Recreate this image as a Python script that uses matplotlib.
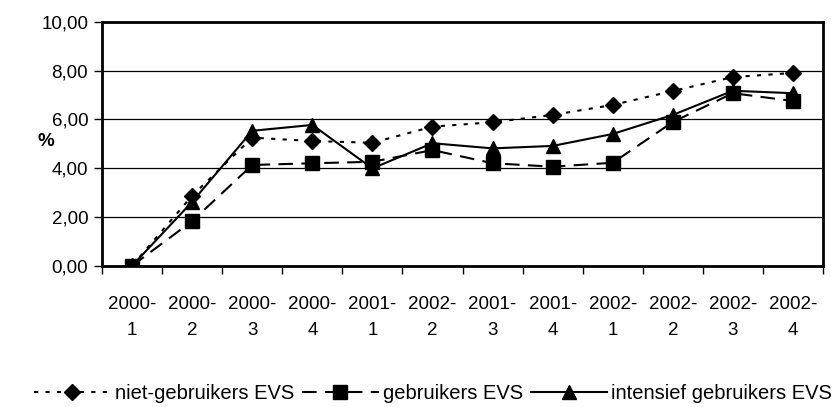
import numpy as np
import matplotlib.pyplot as plt

plt.rcParams['font.family'] = ['Liberation Sans', 'DejaVu Sans']

periods = ['2000-\n1', '2000-\n2', '2000-\n3', '2000-\n4', '2001-\n1', '2002-\n2',
           '2001-\n3', '2001-\n4', '2002-\n1', '2002-\n2', '2002-\n3', '2002-\n4']
niet_gebruikers = [0.00, 2.87, 5.25, 5.11, 5.04, 5.70, 5.88, 6.18, 6.59, 7.16, 7.73, 7.90]
gebruikers = [0.00, 1.83, 4.13, 4.20, 4.26, 4.74, 4.20, 4.06, 4.22, 5.89, 7.07, 6.75]
intensief = [0.00, 2.62, 5.53, 5.77, 3.99, 5.02, 4.81, 4.91, 5.40, 6.18, 7.17, 7.07]
yticks = [0, 2, 4, 6, 8, 10]

fig = plt.figure(figsize=(8.33, 4.07), dpi=100)
ax = fig.add_axes([0.1225, 0.347, 0.8655, 0.5997])

x = np.arange(len(periods))
ax.plot(x, niet_gebruikers, color='black', lw=1.5, ls=(0, (2, 3.5)),
        marker='D', markersize=8, label='niet-gebruikers EVS')
ax.plot(x, gebruikers, color='black', lw=1.5, ls=(0, (7, 4)),
        marker='s', markersize=9.5, label='gebruikers EVS')
ax.plot(x, intensief, color='black', lw=1.5, ls='-',
        marker='^', markersize=10, label='intensief gebruikers EVS')

ax.set_xlim(-0.5, len(periods) - 0.5)
ax.set_ylim(0, 10)
ax.set_yticks(yticks)
ax.set_yticklabels([('%.2f' % v).replace('.', ',') for v in yticks])
ax.yaxis.grid(True, color='black', lw=0.9)
ax.set_axisbelow(True)

# category labels centred, tick marks on the boundaries
ax.set_xticks(np.arange(-0.5, len(periods)), labels=[])
ax.set_xticks(x, labels=periods, minor=True)
ax.tick_params(axis='x', which='major', length=6, width=1, direction='out')
ax.tick_params(axis='x', which='minor', length=0, pad=22, labelsize=13.5)
ax.tick_params(axis='y', length=6, width=1, direction='out', labelsize=13.5, pad=4)
for lab in ax.get_xticklabels(minor=True):
    lab.set_linespacing(1.7)

for s in ax.spines.values():
    s.set_linewidth(2)
    s.set_color('black')

ax.set_ylabel('%', rotation=0, fontsize=13.5, fontweight='bold', va='center', ha='center')
ax.yaxis.set_label_coords(-0.078, 0.51)

fig.legend(loc='lower center', bbox_to_anchor=(0.52, -0.035), ncol=3, frameon=False,
           fontsize=14.5, handlelength=3.8, handletextpad=0.2, columnspacing=0.4)

fig.savefig('out.png', dpi=100)
